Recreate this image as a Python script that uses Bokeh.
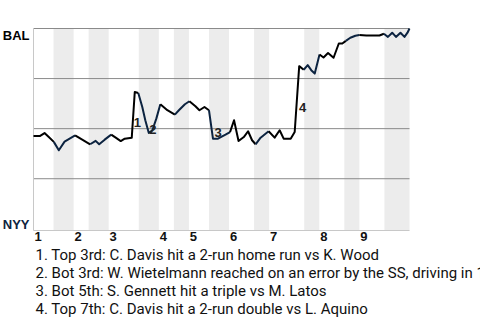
from bokeh.plotting import figure
from bokeh.models import Range1d, ColumnDataSource
from bokeh.core.properties import value
from bokeh.embed import file_html
from bokeh.resources import INLINE

# ---- data ----
innings = ["1", "2", "3", "4", "5", "6", "7", "8", "9"]
top_starts = [0, 8, 15, 25, 31, 39, 47, 57, 65]      # event index where each top half begins
bot_starts = [4, 11, 21, 28, 35, 44, 54, 62, 70]     # event index where each bottom half begins
game_end = 75

wp_x = [0.0, 1.25, 2.2, 3.05, 4.05, 5.05, 6.2, 8.3, 11.3, 12.4, 13.1, 14.2, 15.5, 16.4,
        17.4, 18.2, 19.6, 20.2, 20.9, 21.7, 22.3, 23.0, 23.7, 24.5, 25.3, 26.7, 28.2,
        29.0, 30.2, 31.1, 32.3, 33.1, 34.1, 35.0, 35.8, 36.8, 38.3, 39.2, 40.0, 40.9,
        41.95, 42.8, 43.6, 44.3, 45.3, 46.9, 48.1, 49.1, 49.9, 51.3, 52.1, 53.0, 53.9,
        54.7, 55.4, 56.1, 57.05, 57.85, 58.75, 59.85, 60.9, 61.6, 62.3, 63.2, 64.2,
        65.0, 66.4, 69.0, 69.9, 70.7, 71.55, 72.3, 73.2, 74.0, 74.6, 75.0]
wp_bal = [46.3, 46.3, 47.8, 45.8, 43.4, 39.2, 43.5, 46.6, 42.2, 43.9, 42.2, 44.5, 47.0, 45.5,
          43.8, 45.0, 45.5, 68.3, 67.8, 60.8, 54.2, 47.8, 49.2, 55.0, 62.2, 59.2, 57.0,
          59.2, 62.2, 63.7, 61.2, 59.2, 60.8, 59.2, 45.0, 45.0, 47.0, 48.3, 54.2, 43.8,
          45.8, 48.7, 44.2, 42.2, 45.5, 48.7, 45.5, 49.2, 45.0, 45.0, 48.3, 81.2, 79.4,
          81.7, 79.2, 77.5, 87.0, 85.5, 87.8, 85.4, 92.5, 92.5, 93.8, 95.4, 96.4,
          96.8, 96.5, 96.5, 97.4, 95.8, 97.9, 95.8, 97.9, 95.8, 97.9, 100.0]

event_nums = ["1", "2", "3", "4"]
event_x = [20.7, 23.8, 36.8, 53.7]
event_p = [52.9, 49.5, 47.9, 60.4]
event_text = [
    "1. Top 3rd: C. Davis hit a 2-run home run vs K. Wood",
    "2. Bot 3rd: W. Wietelmann reached on an error by the SS, driving in 1 run",
    "3. Bot 5th: S. Gennett hit a triple vs M. Latos",
    "4. Top 7th: C. Davis hit a 2-run double vs L. Aquino",
]
teams = ["BAL", "NYY"]
grid_levels = [25, 50, 75, 100]

BAL_COLOR = "#000000"
NYY_COLOR = "#0C2340"

# ---- layout (pixel geometry of the plotting area inside the 480x320 canvas) ----
W, H = 480, 320
LEFT, RIGHT, TOP, BOTTOM = 33, 409, 28, 230
Y_FLOOR = -0.85                        # chart floor slightly below 0 %
ux = (RIGHT - LEFT) / game_end         # px per event
uy = (BOTTOM - TOP) / (100 - Y_FLOOR)  # px per percent

def px_to_y(py):
    return 100 - (py - TOP) / uy

x0 = -LEFT / ux
x1 = game_end + (W - RIGHT) / ux
y1 = 100 + TOP / uy
y0 = Y_FLOOR - (H - BOTTOM) / uy

p = figure(width=W, height=H, output_backend="svg", toolbar_location=None,
           x_range=Range1d(x0, x1), y_range=Range1d(y0, y1),
           min_border=0, x_axis_location=None, y_axis_location=None)
p.outline_line_color = None
p.xgrid.visible = False
p.ygrid.visible = False
p.background_fill_color = "white"
p.border_fill_color = "white"

# bottom-half bands
band_right = top_starts[1:] + [game_end]
p.quad(left=bot_starts, right=band_right, bottom=Y_FLOOR, top=100,
       fill_color="#ececec", line_color=None)
# grid lines
p.segment(x0=[0] * len(grid_levels), x1=[game_end] * len(grid_levels),
          y0=grid_levels, y1=grid_levels, line_color="#8a8a8a", line_width=1)
# left edge and bottom axis line
p.segment(x0=[0, 0], x1=[0, game_end], y0=[Y_FLOOR, Y_FLOOR], y1=[100, Y_FLOOR],
          line_color="#c8c8c8", line_width=1)

# line segments coloured by half inning
def is_bottom(xm):
    for b, r in zip(bot_starts, band_right):
        if b <= xm < r:
            return True
    return False

xs, ys, cols = [], [], []
cur_x, cur_y, cur_c = [wp_x[0]], [wp_bal[0]], None
for i in range(len(wp_x) - 1):
    c = NYY_COLOR if is_bottom((wp_x[i] + wp_x[i + 1]) / 2) else BAL_COLOR
    if cur_c is None:
        cur_c = c
    if c != cur_c:
        xs.append(cur_x); ys.append(cur_y); cols.append(cur_c)
        cur_x, cur_y, cur_c = [wp_x[i]], [wp_bal[i]], c
    cur_x.append(wp_x[i + 1]); cur_y.append(wp_bal[i + 1])
xs.append(cur_x); ys.append(cur_y); cols.append(cur_c)
p.multi_line(xs=xs, ys=ys, line_color=cols, line_width=2, line_join="round")

# event numbers
src = ColumnDataSource(dict(x=event_x, y=event_p, t=event_nums))
p.text(x="x", y="y", text="t", source=src, text_font=value("Liberation Sans"),
       text_font_style="bold", text_font_size="13px", text_color="#222222",
       text_align="center", text_baseline="middle")

# inning labels
p.text(x=[s + 0.9 for s in top_starts], y=[px_to_y(235.5)] * len(innings), text=innings,
       text_font=value("Liberation Sans"), text_font_style="bold", text_font_size="13px",
       text_color="#111111", text_align="center", text_baseline="middle")

# team labels
p.text(x=[0, 0], y=[px_to_y(34.7), px_to_y(224)], text=teams, x_offset=-4,
       text_font=value("Liberation Sans"), text_font_style="bold", text_font_size="13px",
       text_color=[BAL_COLOR, NYY_COLOR], text_align="right", text_baseline="middle")

# event descriptions below the chart
p.text(x=[(35 - LEFT) / ux] * len(event_text),
       y=[px_to_y(254 + 18.3 * k) for k in range(len(event_text))],
       text=event_text, text_font=value("Roboto"), text_font_size="15px",
       text_color="#111111", text_align="left", text_baseline="middle")

open("out.html", "w").write(file_html(p, INLINE))
